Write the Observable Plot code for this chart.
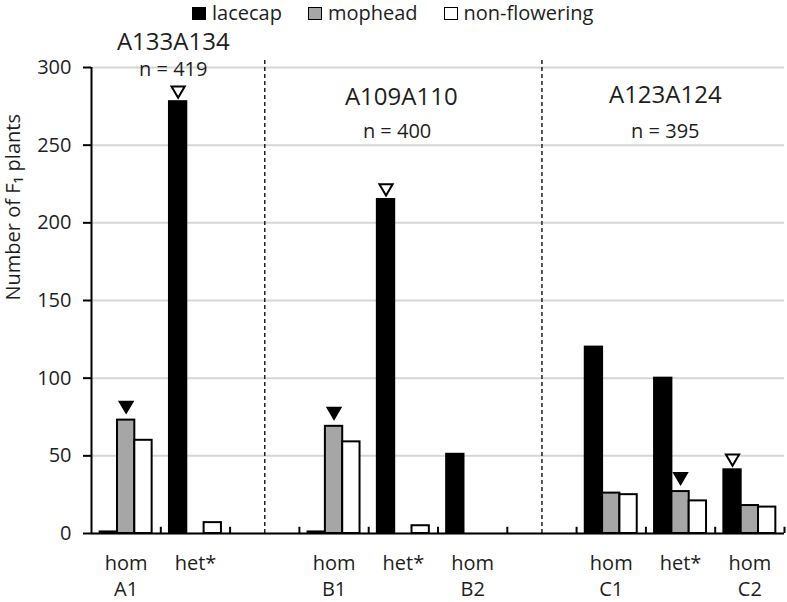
<!DOCTYPE html>
<html>
<head>
<meta charset="utf-8">
<script src="https://cdn.jsdelivr.net/npm/d3@7"></script>
<script src="https://cdn.jsdelivr.net/npm/@observablehq/plot@0.6"></script>
<style>
  html, body { margin: 0; padding: 0; background: #fff; }
  #wrap { position: relative; width: 787px; height: 602px; font-family: "Open Sans", sans-serif; color: #1e1e1e; }
  #legend { position: absolute; top: 1px; left: 192px; display: flex; align-items: center; font-size: 20px; line-height: 24px; }
  #legend .item { display: flex; align-items: center; margin-right: 26px; }
  #legend .sw { display: inline-block; width: 12px; height: 11px; border: 1.5px solid #000; margin-right: 6px; }
  #chart { position: absolute; top: 0; left: 0; }
</style>
</head>
<body>
<div id="wrap">
  <div id="chart"></div>
  <div id="legend"></div>
</div>
<script>
// ---- data ----
const genotypes = ["hom", "het*", "", "hom", "het*", "hom", "", "hom", "het*", "hom"];
const loci = ["A1", "", "", "B1", "", "B2", "", "C1", "", "C2"];
const series = ["lacecap", "mophead", "non-flowering"];
const lacecap = [1, 278, null, 1, 215, 51, null, 120, 100, 41];
const mophead = [73, 0, null, 69, 0, 0, null, 26, 27, 18];
const nonFlowering = [60, 7, null, 59, 5, 0, null, 25, 21, 17];
const seriesColors = ["#000000", "#a6a6a6", "#ffffff"];
const yTicks = [0, 50, 100, 150, 200, 250, 300];
const yLabel = "Number of F\u2081 plants";
const crossNames = ["A133A134", "A109A110", "A123A124"];
const crossN = [419, 400, 395];
// markers: category index, series, filled?
const markerCat = [0, 1, 3, 4, 8, 9];
const markerSeries = ["mophead", "lacecap", "mophead", "lacecap", "mophead", "lacecap"];
const markerFilled = [true, false, true, false, true, false];

// ---- layout helpers ----
const values = [lacecap, mophead, nonFlowering];
const rows = [];
values.forEach((arr, s) => arr.forEach((v, i) => {
  if (v != null) rows.push({i, s, series: series[s], value: v});
}));
const barX1 = d => d.i + 0.125 + 0.25 * d.s;
const barX2 = d => d.i + 0.375 + 0.25 * d.s;
const cats = genotypes.map((g, i) => ({i, label: g + (loci[i] ? "\n" + loci[i] : "")}));
const markers = markerCat.map((c, k) => {
  const s = series.indexOf(markerSeries[k]);
  return {x: c + 0.25 + 0.25 * s, y: values[s][c], filled: markerFilled[k]};
});
const titlePos = [{x: 1.18, y: 316, nx: 1.18, ny: 298.5}, {x: 4.47, y: 281, nx: 4.41, ny: 259}, {x: 8.28, y: 282, nx: 8.28, ny: 259}];
const titles = crossNames.map((name, k) => ({name, n: "n = " + crossN[k], ...titlePos[k]}));

const triangleDown = {
  draw(context, size) {
    const s = Math.sqrt(size / Math.PI) * 3;
    const h = s * 0.85;
    context.moveTo(0, 0);
    context.lineTo(-s / 2, -h);
    context.lineTo(s / 2, -h);
    context.closePath();
  }
};

const chart = Plot.plot({
  width: 787,
  height: 602,
  marginTop: 67,
  marginBottom: 69,
  marginLeft: 91,
  marginRight: 3,
  style: {fontFamily: "'Open Sans', sans-serif", fontSize: "20px", color: "#1e1e1e", background: "white"},
  x: {domain: [0, 10], axis: null},
  y: {domain: [0, 300], axis: null},
  marks: [
    Plot.gridY({ticks: yTicks, stroke: "#d6d6d6", strokeOpacity: 1, strokeWidth: 2}),
    Plot.ruleX([2.5, 6.5], {y1: 0, y2: 305, stroke: "#222", strokeWidth: 1.5, strokeDasharray: "4,3"}),
    Plot.rectY(rows, {x1: barX1, x2: barX2, y1: 0, y2: "value", fill: d => seriesColors[d.s], stroke: "#000", strokeWidth: 2}),
    Plot.ruleY([0], {stroke: "#000", strokeWidth: 2}),
    Plot.ruleX([0], {stroke: "#000", strokeWidth: 2}),
    Plot.ruleX(d3.range(1, 11), {y1: 0, y2: 4, stroke: "#000", strokeWidth: 2}),
    Plot.axisY({ticks: yTicks, tickSize: 8, tickPadding: 12, label: null, stroke: "#000", strokeWidth: 2, fontSize: 20}),
    Plot.text(cats, {x: d => d.i + 0.5, y: 0, text: "label", lineAnchor: "top", lineHeight: 1.3, dy: 18, fontSize: 20, fill: "#1e1e1e"}),
    Plot.text([yLabel], {frameAnchor: "left", rotate: -90, dx: -78, fontSize: 20, fill: "#1e1e1e"}),
    Plot.text(titles, {x: "x", y: "y", text: "name", fontSize: 24, fill: "#1e1e1e"}),
    Plot.text(titles, {x: "nx", y: "ny", text: "n", fontSize: 20, fill: "#1e1e1e"}),
    Plot.dot(markers.filter(d => d.filled), {x: "x", y: "y", dy: -7, r: 4.6, symbol: triangleDown, fill: "#000", stroke: "#000", strokeWidth: 1.5}),
    Plot.dot(markers.filter(d => !d.filled), {x: "x", y: "y", dy: -4, r: 4.4, symbol: triangleDown, fill: "#fff", stroke: "#000", strokeWidth: 2})
  ]
});
document.getElementById("chart").appendChild(chart);

const legend = document.getElementById("legend");
series.forEach((name, s) => {
  const item = document.createElement("span");
  item.className = "item";
  const sw = document.createElement("span");
  sw.className = "sw";
  sw.style.background = seriesColors[s];
  const t = document.createElement("span");
  t.textContent = name;
  item.appendChild(sw);
  item.appendChild(t);
  legend.appendChild(item);
});
</script>
</body>
</html>
